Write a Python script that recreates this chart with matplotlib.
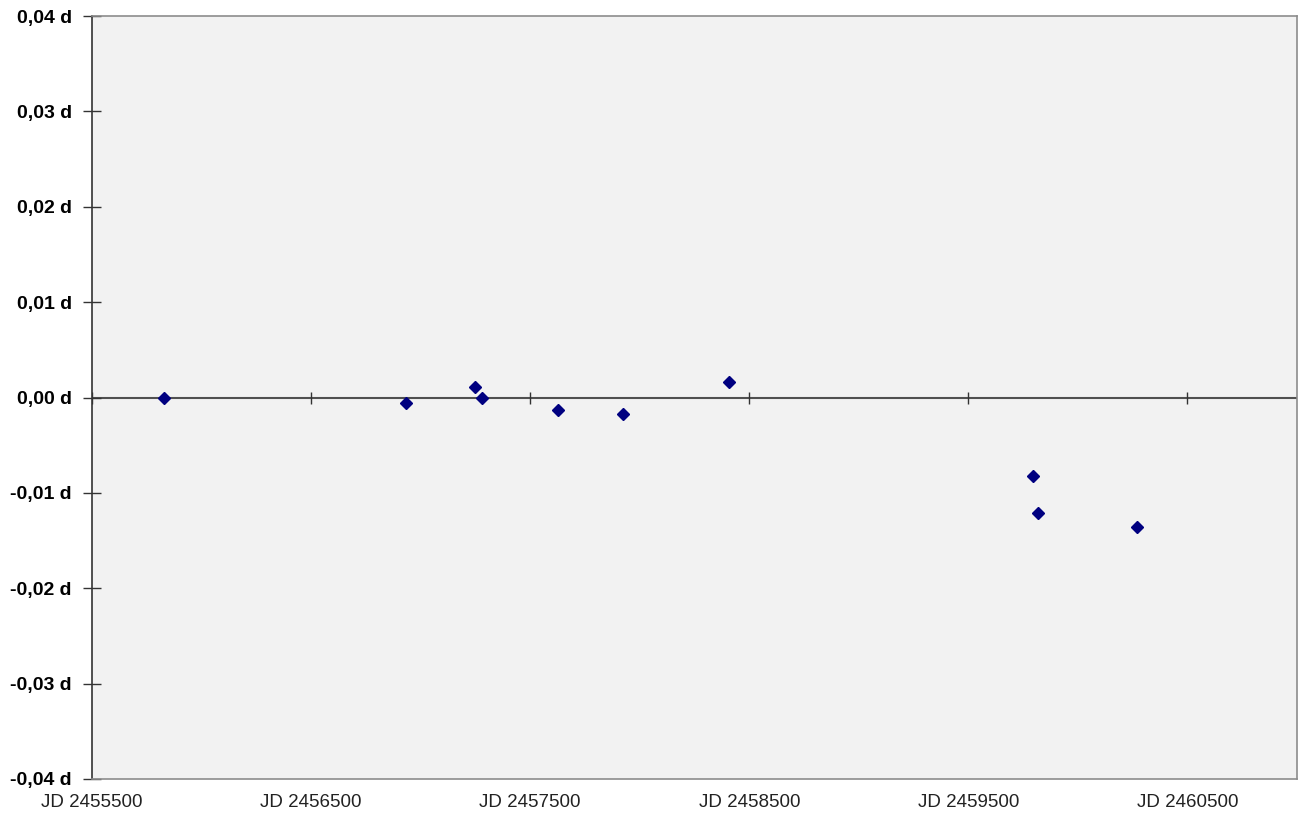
import matplotlib
matplotlib.use("Agg")
import matplotlib.pyplot as plt
from matplotlib.ticker import FuncFormatter, MultipleLocator

# O-C residuals (JD, days)
jd = [2455829, 2456932, 2457249, 2457279, 2457625, 2457925,
      2458409, 2459793, 2459819, 2460268]
o_c = [0.0000, -0.0006, 0.0011, 0.0000, -0.0013, -0.0017,
       0.0016, -0.0082, -0.0121, -0.0136]

x_ticks = [2455500, 2456500, 2457500, 2458500, 2459500, 2460500]
x_range = (2455500, 2461000)
y_range = (-0.04, 0.04)

plt.rcParams["font.family"] = ["Liberation Sans", "DejaVu Sans"]

fig = plt.figure(figsize=(13, 8.16), dpi=100)
ax = fig.add_axes([92 / 1300, 37 / 816, 1205 / 1300, 763 / 816])
ax.set_facecolor("#f2f2f2")

ax.set_xlim(*x_range)
ax.set_ylim(*y_range)

# zero line with its own tick marks, like the Excel chart
ax.axhline(0, color="#505050", lw=1.5, zorder=1)
ax.plot(x_ticks, [0] * len(x_ticks), ls="none", marker="|",
        ms=8.5, mew=1.0, color="#333333", zorder=1)

ax.plot(jd, o_c, ls="none", marker="D", ms=6.0,
        color="#000080", zorder=3)

# frame
for side in ("top", "right", "bottom"):
    ax.spines[side].set_color("#8c8c8c")
    ax.spines[side].set_linewidth(1.2)
ax.spines["left"].set_color("#333333")
ax.spines["left"].set_linewidth(1.2)

ax.set_xticks(x_ticks)
ax.set_xticklabels([f"JD {t}" for t in x_ticks])
ax.tick_params(axis="x", length=0, pad=11, labelsize=13.5, colors="#222222")

ax.yaxis.set_major_locator(MultipleLocator(0.01))
ax.yaxis.set_major_formatter(
    FuncFormatter(lambda v, _: f"{v:.2f}".replace(".", ",").replace("-0,00", "0,00") + " d"))
ax.tick_params(axis="y", direction="inout", length=13, width=1.0,
               color="#333333", pad=8, labelsize=14)
for lab in ax.get_yticklabels():
    lab.set_fontweight("bold")

fig.savefig("out.png", dpi=100, facecolor="white")
